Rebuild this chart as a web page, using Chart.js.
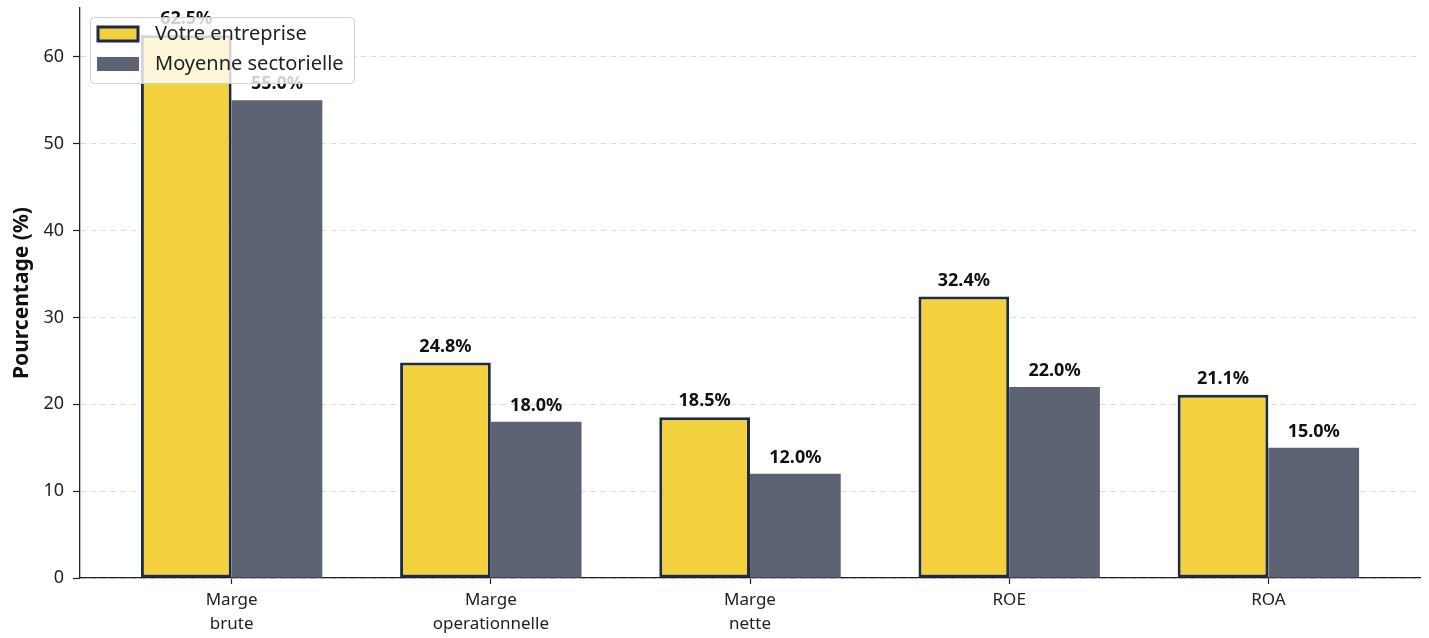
<!DOCTYPE html>
<html><head><meta charset="utf-8">
<script src="https://cdn.jsdelivr.net/npm/chart.js@4"></script>
<style>html,body{margin:0;padding:0;background:#fff}#wrap{width:1429px;height:638px}</style>
</head><body><div id="wrap"><canvas id="c" width="1429" height="638"></canvas></div>
<script>
const categories = [["Marge","brute"],["Marge","operationnelle"],["Marge","nette"],["ROE"],["ROA"]];
const seriesNames = ["Votre entreprise","Moyenne sectorielle"];
const entreprise = [62.5, 24.8, 18.5, 32.4, 21.1];
const secteur = [55.0, 18.0, 12.0, 22.0, 15.0];
const yTicks = [0,10,20,30,40,50,60];

const YELLOW = '#F3D03E', NAVY = '#1F2A44', GREY = '#5D6373';
const FONT = "'Noto Sans', 'Open Sans', sans-serif";

const valueLabels = {
  id:'valueLabels',
  afterDatasetsDraw(chart){
    const ctx = chart.ctx;
    ctx.save();
    ctx.font = "bold 18px " + FONT;
    ctx.fillStyle = '#111';
    ctx.textAlign = 'center';
    ctx.textBaseline = 'alphabetic';
    chart.data.datasets.forEach((ds, di) => {
      chart.getDatasetMeta(di).data.forEach((bar, i) => {
        ctx.fillText(ds.data[i].y.toFixed(1) + '%', bar.x, bar.y - 11);
      });
    });
    ctx.restore();
  }
};

const boxLegend = {
  id:'boxLegend',
  afterDraw(chart){
    const ctx = chart.ctx;
    ctx.save();
    const x = 90, y = 17, w = 264, h = 66, r = 4;
    ctx.beginPath();
    ctx.roundRect(x + 0.5, y + 0.5, w, h, r);
    ctx.fillStyle = 'rgba(255,255,255,0.8)';
    ctx.fill();
    ctx.strokeStyle = 'rgba(204,204,204,0.9)';
    ctx.lineWidth = 1;
    ctx.stroke();
    ctx.fillStyle = YELLOW;
    ctx.fillRect(98, 27, 40, 14);
    ctx.strokeStyle = NAVY; ctx.lineWidth = 3;
    ctx.strokeRect(98, 27, 40, 14);
    ctx.fillStyle = GREY;
    ctx.fillRect(97, 57, 42, 14);
    ctx.fillStyle = '#222';
    ctx.font = "20px " + FONT;
    ctx.textAlign = 'left';
    ctx.textBaseline = 'middle';
    ctx.fillText(seriesNames[0], 155, 34);
    ctx.fillText(seriesNames[1], 155, 64);
    ctx.restore();
  }
};

new Chart(document.getElementById('c'), {
  type:'bar',
  data:{
    datasets:[
      {label:seriesNames[0], data:entreprise.map((v,i)=>({x:i,y:v})), backgroundColor:YELLOW, borderColor:NAVY, borderWidth:3, borderSkipped:false},
      {label:seriesNames[1], data:secteur.map((v,i)=>({x:i,y:v})), backgroundColor:GREY, borderWidth:0}
    ]
  },
  options:{
    responsive:false, animation:false,
    datasets:{bar:{categoryPercentage:0.7, barPercentage:1.0}},
    layout:{padding:{top:8,right:9,left:0,bottom:0}},
    plugins:{legend:{display:false}, tooltip:{enabled:false}},
    scales:{
      x:{
        type:'linear', min:-0.585, max:4.585, offset:false,
        afterBuildTicks(axis){ axis.ticks = categories.map((c,i)=>({value:i})); },
        afterFit(axis){ axis.height = 60; axis.paddingLeft = 0; axis.paddingRight = 0; },
        ticks:{ callback:(v)=>categories[v], color:'#222', font:{family:FONT,size:17,lineHeight:1.4}, padding:4, maxRotation:0, autoSkip:false },
        grid:{ offset:false, drawOnChartArea:false, drawTicks:true, tickLength:6, tickColor:'#222', tickWidth:1.2 },
        border:{ display:true, color:'#222', width:1.3 }
      },
      y:{
        min:0, max:65.625,
        afterBuildTicks(axis){ axis.ticks = yTicks.map(v=>({value:v})); },
        afterFit(axis){ axis.width = 80; axis.paddingTop = 0; axis.paddingBottom = 0; },
        ticks:{ color:'#222', font:{family:FONT,size:18}, padding:9 },
        grid:{ color:'#dddddd', lineWidth:1, tickColor:'#222', tickLength:7, tickWidth:1.2, tickBorderDash:[] },
        border:{ display:true, color:'#222', width:1.3, dash:[6,4] },
        title:{ display:true, text:'Pourcentage (%)', color:'#111', font:{family:FONT,size:21,weight:'bold'}, padding:{top:9,bottom:0} }
      }
    }
  },
  plugins:[valueLabels, boxLegend]
});
</script></body></html>
